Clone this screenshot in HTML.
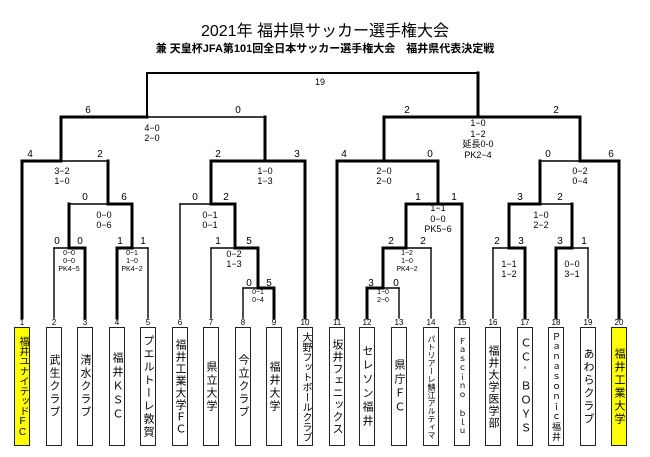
<!DOCTYPE html>
<html><head><meta charset="utf-8"><style>
body{margin:0;background:#fff;width:650px;height:457px;overflow:hidden;position:relative;font-family:"Liberation Sans","Noto Sans CJK JP",sans-serif;}
.t{position:absolute;left:0;width:650px;text-align:center;color:#000}
.b{position:absolute;top:327px;width:14px;height:117px;border:1.5px solid #222;box-sizing:content-box;display:flex;align-items:center;justify-content:center;writing-mode:vertical-rl;text-orientation:upright;font-size:11px;line-height:14px;font-family:"Liberation Sans","Noto Sans CJK JP",sans-serif;white-space:nowrap;overflow:hidden}
.y{background:#ffff00}
</style></head><body>
<div class="t" style="top:17px;font-size:16px;">2021年 福井県サッカー選手権大会</div>
<div class="t" style="top:40px;font-size:11px;font-weight:bold;">兼 天皇杯JFA第101回全日本サッカー選手権大会　福井県代表決定戦</div>
<svg width="650" height="457" style="position:absolute;left:0;top:0" font-family="Liberation Sans, Noto Sans CJK JP, sans-serif">
<g stroke="#000" fill="none" stroke-linecap="square">
<line x1="147" y1="73" x2="478" y2="73" stroke-width="2"/>
<line x1="147" y1="73" x2="147" y2="117" stroke-width="2"/>
<line x1="478" y1="73" x2="478" y2="117" stroke-width="3"/>
<g stroke-width="1.4">
<line x1="147" y1="117" x2="265" y2="117"/>
<line x1="61" y1="161" x2="108" y2="161"/>
<line x1="54" y1="248" x2="69" y2="248"/><line x1="54" y1="248" x2="54" y2="318"/>
<line x1="132" y1="248" x2="148" y2="248"/><line x1="148" y1="248" x2="148" y2="318"/>
<line x1="69" y1="204" x2="108" y2="204"/>
<line x1="180" y1="204" x2="211" y2="204"/><line x1="180" y1="204" x2="180" y2="318"/>
<line x1="211" y1="248" x2="235" y2="248"/><line x1="211" y1="248" x2="211" y2="318"/>
<line x1="243" y1="288" x2="258" y2="288"/><line x1="243" y1="288" x2="243" y2="318"/>
<line x1="383" y1="288" x2="399" y2="288"/><line x1="399" y1="288" x2="399" y2="318"/>
<line x1="406" y1="248" x2="431" y2="248"/><line x1="431" y1="248" x2="431" y2="318"/>
<line x1="540" y1="161" x2="580" y2="161"/>
<line x1="540" y1="204" x2="572" y2="204"/>
<line x1="493" y1="248" x2="509" y2="248"/><line x1="493" y1="248" x2="493" y2="318"/>
<line x1="572" y1="248" x2="588" y2="248"/><line x1="588" y1="248" x2="588" y2="318"/>
</g>
<g stroke-width="3">
<path d="M22 318V161H61V117H147"/>
<path d="M85 318V248H69V204"/>
<path d="M117 318V248H132V204H108V161"/>
<path d="M265 117V161H211V204H235V248H258V288H274V318"/>
<path d="M265 161H305V318"/>
<path d="M367 318V288H383V248H406V204H438V161H384V117H580V161H619V318"/>
<path d="M438 204H462V318"/>
<path d="M384 161H337V318"/>
<path d="M540 161V204H509V248H525V318"/>
<path d="M509 204H540"/>
<path d="M572 204V248H556V318"/>
</g>
</g>
<g font-size="10" text-anchor="middle" fill="#000">
<text x="320" y="85" font-size="9">19</text>
<text x="88" y="113">6</text><text x="238" y="113">0</text>
<text x="407" y="113">2</text><text x="556" y="113">2</text>
<text x="30" y="157">4</text><text x="100" y="157">2</text><text x="218" y="157">2</text><text x="297" y="157">3</text>
<text x="344" y="157">4</text><text x="430" y="157">0</text><text x="548" y="157">0</text><text x="611" y="157">6</text>
<text x="85" y="200">0</text><text x="124" y="200">6</text><text x="195" y="200">0</text><text x="226" y="200">2</text>
<text x="418" y="200">1</text><text x="454" y="200">1</text><text x="520" y="200">3</text><text x="560" y="200">2</text>
<text x="57" y="244">0</text><text x="80" y="244">0</text><text x="120" y="244">1</text><text x="143" y="244">1</text>
<text x="218" y="244">1</text><text x="249" y="244">5</text>
<text x="391" y="244">2</text><text x="423" y="244">2</text><text x="497" y="244">2</text><text x="521" y="244">3</text><text x="560" y="244">3</text><text x="584" y="244">1</text>
<text x="249" y="286">0</text><text x="269" y="286">5</text><text x="371" y="286">3</text><text x="396" y="286">0</text>
</g>
<g font-size="9" text-anchor="middle" fill="#000">
<text x="152" y="131">4−0</text><text x="152" y="141">2−0</text>
<text x="62" y="174">3−2</text><text x="62" y="184">1−0</text>
<text x="265" y="174">1−0</text><text x="265" y="184">1−3</text>
<text x="104" y="218">0−0</text><text x="104" y="228">0−6</text>
<text x="210" y="218">0−1</text><text x="210" y="228">0−1</text>
<text x="234" y="257">0−2</text><text x="234" y="267">1−3</text>
<text x="478" y="126">1−0</text><text x="478" y="137">1−2</text><text x="478" y="147">延長0-0</text><text x="478" y="158">PK2−4</text>
<text x="384" y="174">2−0</text><text x="384" y="184">2−0</text>
<text x="438" y="211">1−1</text><text x="438" y="222">0−0</text><text x="438" y="232">PK5−6</text>
<text x="580" y="174">0−2</text><text x="580" y="184">0−4</text>
<text x="541" y="218">1−0</text><text x="541" y="228">2−2</text>
<text x="509" y="267">1−1</text><text x="509" y="277">1−2</text>
<text x="572" y="267">0−0</text><text x="572" y="277">3−1</text>
</g>
<g font-size="7" text-anchor="middle" fill="#000">
<text x="69" y="255">0−0</text><text x="69" y="263">0−0</text><text x="69" y="271">PK4−5</text>
<text x="132" y="255">0−1</text><text x="132" y="263">1−0</text><text x="132" y="271">PK4−2</text>
<text x="258" y="294">0−1</text><text x="258" y="302">0−4</text>
<text x="407" y="255">1−2</text><text x="407" y="263">1−0</text><text x="407" y="271">PK4−2</text>
<text x="383" y="294">1−0</text><text x="383" y="302">2−0</text>
</g>
<g font-size="8" text-anchor="middle" fill="#000">
<text x="22" y="325">1</text><text x="54" y="325">2</text><text x="85" y="325">3</text><text x="117" y="325">4</text><text x="148" y="325">5</text>
<text x="180" y="325">6</text><text x="211" y="325">7</text><text x="243" y="325">8</text><text x="274" y="325">9</text><text x="305" y="325">10</text>
<text x="337" y="325">11</text><text x="367" y="325">12</text><text x="399" y="325">13</text><text x="431" y="325">14</text><text x="462" y="325">15</text>
<text x="493" y="325">16</text><text x="525" y="325">17</text><text x="556" y="325">18</text><text x="588" y="325">19</text><text x="619" y="325">20</text>
</g>
</svg>
<div class="b y" style="left:14px;font-size:10px">福井ユナイテッドFC</div>
<div class="b" style="left:46px;letter-spacing:2px">武生クラブ</div>
<div class="b" style="left:77px;letter-spacing:2px">清水クラブ</div>
<div class="b" style="left:109px;letter-spacing:3px">福井ＫＳＣ</div>
<div class="b" style="left:140px;letter-spacing:2px">プエルトーレ敦賀</div>
<div class="b" style="left:172px;letter-spacing:1px">福井工業大学ＦＣ</div>
<div class="b" style="left:203px;letter-spacing:2px">県立大学</div>
<div class="b" style="left:235px;letter-spacing:2px">今立クラブ</div>
<div class="b" style="left:266px;letter-spacing:2px">福井大学</div>
<div class="b" style="left:297px;font-size:10px;line-height:12px">大野フットボールクラブ</div>
<div class="b" style="left:329px;letter-spacing:1px">坂井フェニックス</div>
<div class="b" style="left:359px;letter-spacing:3px">セレソン福井</div>
<div class="b" style="left:391px;letter-spacing:3px">県庁ＦＣ</div>
<div class="b" style="left:423px;font-size:8px">パトリアーレ鯖江アルティマ</div>
<div class="b" style="left:454px;font-size:8px;letter-spacing:1px">Ｆａｓｃｉｎｏ　ｂｌｕ</div>
<div class="b" style="left:485px;letter-spacing:1px">福井大学医学部</div>
<div class="b" style="left:517px;letter-spacing:3px">ＣＣ'ＢＯＹＳ</div>
<div class="b" style="left:548px;font-size:9px;letter-spacing:1px">Ｐａｎａｓｏｎｉｃ福井</div>
<div class="b" style="left:580px;letter-spacing:2px">あわらクラブ</div>
<div class="b y" style="left:611px;letter-spacing:2px">福井工業大学</div>
</body></html>
